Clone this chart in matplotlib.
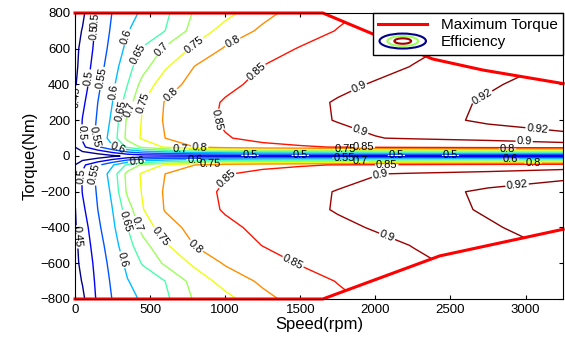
import numpy as np
import matplotlib
matplotlib.use("Agg")
import matplotlib.pyplot as plt
from matplotlib.patches import Polygon, Ellipse
from matplotlib.lines import Line2D
from matplotlib.legend_handler import HandlerBase

plt.rcParams['font.family'] = ['Liberation Sans', 'DejaVu Sans']

# efficiency map, speed columns (rpm) x torque rows (Nm, upper half)
speed = [0, 50, 150, 250, 350, 450, 600, 800, 1000, 1250, 1500, 1750,
         2000, 2250, 2500, 2750, 3000, 3250]
torque_half = [0, 50, 100, 200, 300, 400, 500, 600, 700, 800]
eff_half = [
    [0.40, 0.41, 0.42, 0.44, 0.46, 0.47, 0.47, 0.47, 0.47, 0.47, 0.47, 0.47, 0.47, 0.47, 0.47, 0.47, 0.47, 0.47],
    [0.45, 0.49, 0.54, 0.595, 0.66, 0.71, 0.755, 0.80, 0.825, 0.838, 0.845, 0.852, 0.86, 0.865, 0.87, 0.874, 0.878, 0.882],
    [0.46, 0.505, 0.561, 0.622, 0.716, 0.757, 0.80, 0.823, 0.847, 0.862, 0.874, 0.886, 0.899, 0.903, 0.906, 0.909, 0.913, 0.917],
    [0.455, 0.502, 0.555, 0.61, 0.71, 0.754, 0.806, 0.835, 0.856, 0.873, 0.889, 0.902, 0.907, 0.911, 0.918, 0.923, 0.925, 0.925],
    [0.447, 0.49, 0.549, 0.60, 0.675, 0.747, 0.803, 0.831, 0.854, 0.871, 0.889, 0.903, 0.907, 0.912, 0.917, 0.922, 0.925, 0.926],
    [0.445, 0.476, 0.539, 0.59, 0.65, 0.718, 0.779, 0.817, 0.84, 0.861, 0.877, 0.892, 0.903, 0.908, 0.913, 0.918, 0.923, 0.925],
    [0.44, 0.467, 0.528, 0.578, 0.632, 0.681, 0.743, 0.802, 0.824, 0.851, 0.864, 0.877, 0.89, 0.901, 0.91, 0.915, 0.918, 0.918],
    [0.44, 0.46, 0.518, 0.568, 0.612, 0.654, 0.708, 0.761, 0.805, 0.83, 0.853, 0.867, 0.88, 0.893, 0.903, 0.91, 0.915, 0.915],
    [0.43, 0.453, 0.512, 0.559, 0.598, 0.619, 0.65, 0.721, 0.77, 0.809, 0.83, 0.852, 0.87, 0.88, 0.89, 0.89, 0.89, 0.89],
    [0.43, 0.44, 0.508, 0.552, 0.582, 0.608, 0.639, 0.707, 0.734, 0.786, 0.82, 0.84, 0.86, 0.87, 0.87, 0.87, 0.87, 0.87],
]
levels = [0.45, 0.5, 0.55, 0.6, 0.65, 0.7, 0.75, 0.8, 0.85, 0.9, 0.92]

# maximum torque envelope (motoring / generating)
max_speed_pos = [0, 1650, 2380, 2715, 3250]
max_torque_pos = [800, 800, 543, 481, 405]
max_speed_neg = [0, 1650, 2428, 3250]
max_torque_neg = [-800, -800, -559, -410]

# where the contour labels go
label_spots = [
    (100, 694), (4, 330), (153, 761), (100, 436), (38, 129), (166, 436),
    (120, 107), (344, 667), (244, 360), (286, 62), (432, 565), (277, 257),
    (566, 604), (344, 268), (765, 649), (453, 296), (1042, 649), (652, 330),
    (1198, 481), (909, 185), (1883, 397), (1883, 107), (2695, 352),
    (3074, 128),
    (33, -451), (44, -115), (120, -95), (410, -26), (310, -582), (320, -369),
    (400, -386), (566, -453), (809, -498), (985, -106), (1441, -610),
    (2029, -95), (2073, -459), (2940, -134),
    (700, 35), (830, 50), (800, -22), (900, -40),
    (1165, 2), (1500, 2), (2140, 2), (2500, 2),
    (1800, 36), (1920, 55), (1790, -11), (1900, -30), (2075, -50),
    (2880, 40), (2990, 65), (2900, -15), (3050, -40),
]

# mirror the half map onto negative torque
half = np.array(eff_half)
torque = np.concatenate([-np.array(torque_half[:0:-1]), torque_half])
eff = np.vstack([half[:0:-1], half])

level_colors = plt.cm.jet([0.01, 0.1, 0.21, 0.31, 0.44, 0.54, 0.64, 0.76, 0.89, 0.97, 0.99])


class EllipseHandler(HandlerBase):
    def create_artists(self, legend, orig_handle, xdescent, ydescent,
                       width, height, fontsize, trans):
        cx, cy = width / 2 - xdescent, height / 2 - ydescent
        arts = []
        for scale, col in [(1.0, level_colors[0]), (0.66, level_colors[5]),
                           (0.36, level_colors[9])]:
            e = Ellipse((cx, cy), width * 0.95 * scale, height * 1.4 * scale,
                        fill=False, edgecolor=col, linewidth=1.5, transform=trans)
            arts.append(e)
        return arts


fig = plt.figure(figsize=(5.65, 3.43), dpi=100)
ax = fig.add_axes([0.1327, 0.1283, 0.864, 0.8338])

cs = ax.contour(speed, torque, eff, levels=levels, colors=level_colors,
                linewidths=1.0)

# keep the map inside the torque envelope
verts = (list(zip(max_speed_pos, max_torque_pos)) +
         list(zip(max_speed_neg[::-1], max_torque_neg[::-1])))
envelope = Polygon(verts, closed=True, transform=ax.transData)
cs.set_clip_path(envelope)
labels = ax.clabel(cs, fmt='%g', fontsize=8, colors='k', inline=True,
                   inline_spacing=1, manual=label_spots)
for t in labels:
    t.set_clip_path(envelope)

ax.plot(max_speed_pos, max_torque_pos, color='red', lw=2.2, clip_on=False)
ax.plot(max_speed_neg, max_torque_neg, color='red', lw=2.2, clip_on=False)

ax.set_xlim(0, 3250)
ax.set_ylim(-800, 800)
ax.set_xticks(range(0, 3001, 500))
ax.set_yticks(range(-800, 801, 200))
ax.tick_params(direction='in', top=True, right=True, labelsize=9.5, length=3)
ax.set_xlabel('Speed(rpm)', fontsize=12, labelpad=1)
ax.set_ylabel('Torque(Nm)', fontsize=12, labelpad=2)

handles = [Line2D([], [], color='red', lw=2.2), object()]
ax.legend(handles, ['Maximum Torque', 'Efficiency'],
          handler_map={object: EllipseHandler()},
          loc='upper right', borderaxespad=0, fontsize=11, fancybox=False,
          framealpha=1, edgecolor='k', handlelength=3.2, handletextpad=0.9,
          borderpad=0.35, labelspacing=0.2)

fig.savefig('out.png', dpi=100)
